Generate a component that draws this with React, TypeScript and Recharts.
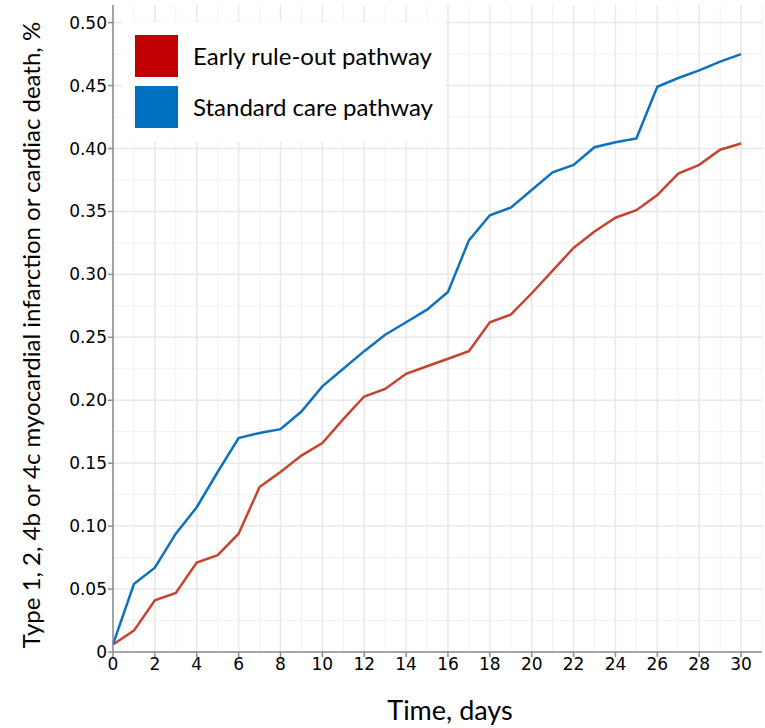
import React from 'react';
import {
  LineChart,
  Line,
  XAxis,
  YAxis,
  CartesianGrid,
  Legend,
} from 'recharts';

const days = [0, 1, 2, 3, 4, 5, 6, 7, 8, 9, 10, 11, 12, 13, 14, 15, 16, 17, 18, 19, 20, 21, 22, 23, 24, 25, 26, 27, 28, 29, 30];

const earlyRuleOut = [
  0.006, 0.017, 0.041, 0.047, 0.071, 0.077, 0.094, 0.131, 0.143, 0.156, 0.166,
  0.185, 0.203, 0.209, 0.221, 0.227, 0.233, 0.239, 0.262, 0.268, 0.285, 0.303,
  0.321, 0.334, 0.345, 0.351, 0.363, 0.380, 0.387, 0.399, 0.404,
];

const standardCare = [
  0.006, 0.054, 0.067, 0.094, 0.115, 0.143, 0.170, 0.174, 0.177, 0.191, 0.211,
  0.225, 0.239, 0.252, 0.262, 0.272, 0.286, 0.327, 0.347, 0.353, 0.367, 0.381,
  0.387, 0.401, 0.405, 0.408, 0.449, 0.456, 0.462, 0.469, 0.475,
];

const xTicks = [0, 2, 4, 6, 8, 10, 12, 14, 16, 18, 20, 22, 24, 26, 28, 30];
const yTicks = [0, 0.05, 0.1, 0.15, 0.2, 0.25, 0.3, 0.35, 0.4, 0.45, 0.5];
const xMinorGrid = [0, 1, 2, 3, 4, 5, 6, 7, 8, 9, 10, 11, 12, 13, 14, 15, 16, 17, 18, 19, 20, 21, 22, 23, 24, 25, 26, 27, 28, 29, 30, 31];
const yMinorGrid = [0.025, 0.075, 0.125, 0.175, 0.225, 0.275, 0.325, 0.375, 0.425, 0.475];

const seriesNames = ['Early rule-out pathway', 'Standard care pathway'];
const legendColors = ['#c00000', '#0070c0'];

const data = days.map((d, i) => ({
  day: d,
  early: earlyRuleOut[i],
  standard: standardCare[i],
}));

const TITLE_FONT = 'Lato, "Noto Sans", sans-serif';
const TICK_FONT = '"DejaVu Sans", Verdana, sans-serif';

function LegendBox() {
  return (
    <div style={{ background: '#fff', padding: '8px 12px 10px 13px', fontFamily: TITLE_FONT }}>
      {seriesNames.map((name, i) => (
        <div key={name} style={{ display: 'flex', alignItems: 'center', height: 51 }}>
          <div style={{ width: 43, height: 42, background: legendColors[i], marginRight: 15 }} />
          <span style={{ fontSize: 24, color: '#000' }}>{name}</span>
        </div>
      ))}
    </div>
  );
}

export default function App() {
  return (
    <div style={{ position: 'absolute', left: 0, top: 0, background: '#fff' }}>
      <LineChart
        width={765}
        height={728}
        data={data}
        margin={{ top: 5, right: 3, left: 0, bottom: 0 }}
      >
        <CartesianGrid
          stroke="#f0f0f0"
          strokeWidth={1}
          verticalValues={xMinorGrid}
          horizontalValues={yMinorGrid}
        />
        <CartesianGrid
          stroke="#e8e8e8"
          strokeWidth={1.5}
          verticalValues={xTicks}
          horizontalValues={yTicks}
        />
        <XAxis
          dataKey="day"
          type="number"
          domain={[0, 31]}
          ticks={xTicks}
          height={76}
          stroke="#8c8c8c"
          strokeWidth={1.5}
          tickSize={5}
          tickMargin={1}
          tick={{ fill: '#000', fontSize: 17, fontFamily: TICK_FONT }}
          label={{
            content: () => (
              <text
                x={450}
                y={709}
                textAnchor="middle"
                dominantBaseline="central"
                fontFamily={TITLE_FONT}
                fontSize={27}
                fill="#000"
              >
                Time, days
              </text>
            ),
          }}
        />
        <YAxis
          type="number"
          domain={[0, 0.514]}
          ticks={yTicks}
          width={113}
          stroke="#8c8c8c"
          strokeWidth={1.5}
          tickSize={5}
          tickMargin={1}
          tickFormatter={(v: number) => (v === 0 ? '0' : v.toFixed(2))}
          tick={{ fill: '#000', fontSize: 17, fontFamily: TICK_FONT }}
          label={{
            content: () => (
              <text
                x={30}
                y={335}
                transform="rotate(-90, 30, 335)"
                textAnchor="middle"
                dominantBaseline="central"
                fontFamily={TITLE_FONT}
                fontSize={24}
                fill="#000"
              >
                Type 1, 2, 4b or 4c myocardial infarction or cardiac death, %
              </text>
            ),
          }}
        />
        <Legend
          layout="vertical"
          align="center"
          verticalAlign="middle"
          wrapperStyle={{ left: 122, top: 22, width: 'auto', height: 'auto' }}
          content={() => <LegendBox />}
        />
        <Line
          type="linear"
          dataKey="early"
          name={seriesNames[0]}
          stroke="#c5432f"
          strokeWidth={2.5}
          dot={false}
          isAnimationActive={false}
        />
        <Line
          type="linear"
          dataKey="standard"
          name={seriesNames[1]}
          stroke="#0b72bb"
          strokeWidth={2.5}
          dot={false}
          isAnimationActive={false}
        />
      </LineChart>
    </div>
  );
}
